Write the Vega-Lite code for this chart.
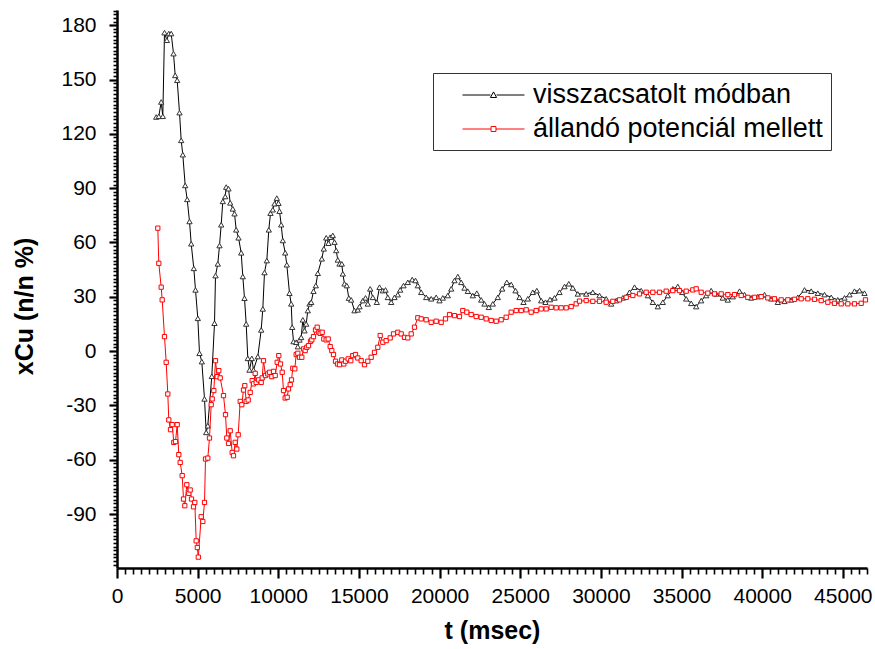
{
 "$schema": "https://vega.github.io/schema/vega-lite/v6.json",
 "width": 750,
 "height": 558,
 "autosize": {"type": "none"},
 "padding": {"left": 117, "top": 10, "right": 8, "bottom": 81},
 "config": {"view": {"stroke": null}, "font": "Liberation Sans"},
 "datasets": {
  "feedback": [{"t":2430,"x":129.3},{"t":2592,"x":129.7},{"t":2740,"x":137.6},{"t":2840,"x":129.7},{"t":2945,"x":175.9},{"t":3088,"x":171.7},{"t":3212,"x":175.4},{"t":3360,"x":175.4},{"t":3503,"x":164.3},{"t":3608,"x":152.3},{"t":3732,"x":149.6},{"t":3875,"x":131.7},{"t":3980,"x":116.4},{"t":4080,"x":108.5},{"t":4228,"x":91.5},{"t":4352,"x":83.8},{"t":4495,"x":71.6},{"t":4600,"x":59.3},{"t":4762,"x":45.7},{"t":4867,"x":33.8},{"t":5010,"x":18.1},{"t":5115,"x":-1.2},{"t":5258,"x":-5.8},{"t":5425,"x":-26.4},{"t":5530,"x":-44.9},{"t":5630,"x":-41.2},{"t":5878,"x":-13.9},{"t":6045,"x":15.4},{"t":6107,"x":41.7},{"t":6250,"x":48.2},{"t":6355,"x":58.3},{"t":6460,"x":69.8},{"t":6560,"x":82.7},{"t":6708,"x":85.4},{"t":6770,"x":90.6},{"t":6913,"x":89.7},{"t":7018,"x":81.9},{"t":7180,"x":78.6},{"t":7285,"x":75.9},{"t":7390,"x":67.0},{"t":7533,"x":62.6},{"t":7700,"x":54.3},{"t":7800,"x":41.2},{"t":7905,"x":29.2},{"t":8010,"x":15.0},{"t":8110,"x":-4.0},{"t":8215,"x":-10.4},{"t":8358,"x":-4.0},{"t":8463,"x":-10.4},{"t":8730,"x":-3.0},{"t":8940,"x":11.7},{"t":9040,"x":23.3},{"t":9145,"x":43.4},{"t":9288,"x":50.0},{"t":9412,"x":67.0},{"t":9517,"x":76.2},{"t":9660,"x":78.1},{"t":9765,"x":81.4},{"t":9908,"x":84.5},{"t":10013,"x":81.7},{"t":10075,"x":77.3},{"t":10180,"x":69.8},{"t":10280,"x":61.1},{"t":10428,"x":54.3},{"t":10528,"x":47.7},{"t":10695,"x":32.0},{"t":10800,"x":26.1},{"t":10862,"x":13.2},{"t":10943,"x":5.3},{"t":11110,"x":4.9},{"t":11210,"x":2.5},{"t":11315,"x":6.2},{"t":11420,"x":7.6},{"t":11520,"x":17.3},{"t":11625,"x":11.3},{"t":11730,"x":15.0},{"t":11830,"x":22.4},{"t":11935,"x":26.1},{"t":12040,"x":27.0},{"t":12183,"x":33.1},{"t":12326,"x":36.2},{"t":12450,"x":43.0},{"t":12698,"x":51.0},{"t":12822,"x":56.5},{"t":12970,"x":62.6},{"t":13113,"x":59.6},{"t":13218,"x":62.9},{"t":13380,"x":63.9},{"t":13485,"x":60.2},{"t":13590,"x":55.6},{"t":13690,"x":50.4},{"t":13795,"x":48.2},{"t":13938,"x":48.2},{"t":14000,"x":42.7},{"t":14105,"x":37.2},{"t":14248,"x":36.2},{"t":14372,"x":29.3},{"t":14520,"x":28.3},{"t":14725,"x":22.4},{"t":14930,"x":22.8},{"t":15035,"x":24.6},{"t":15240,"x":27.9},{"t":15407,"x":29.4},{"t":15550,"x":26.1},{"t":15698,"x":34.4},{"t":15860,"x":29.7},{"t":16108,"x":27.0},{"t":16275,"x":35.3},{"t":16480,"x":33.4},{"t":16647,"x":33.8},{"t":16790,"x":29.7},{"t":17000,"x":27.0},{"t":17205,"x":29.7},{"t":17410,"x":31.2},{"t":17558,"x":33.8},{"t":17763,"x":36.2},{"t":18030,"x":38.0},{"t":18302,"x":39.5},{"t":18507,"x":39.0},{"t":18650,"x":36.2},{"t":18860,"x":32.5},{"t":19170,"x":29.7},{"t":19480,"x":28.9},{"t":19790,"x":29.7},{"t":19995,"x":27.9},{"t":20200,"x":29.4},{"t":20510,"x":30.7},{"t":20720,"x":34.4},{"t":20925,"x":39.0},{"t":21130,"x":41.2},{"t":21340,"x":38.0},{"t":21545,"x":34.9},{"t":21750,"x":33.1},{"t":22060,"x":30.7},{"t":22308,"x":32.0},{"t":22580,"x":28.3},{"t":22785,"x":26.1},{"t":23052,"x":24.2},{"t":23300,"x":26.1},{"t":23610,"x":29.7},{"t":23882,"x":34.4},{"t":24168,"x":38.0},{"t":24440,"x":36.8},{"t":24707,"x":33.4},{"t":24955,"x":29.7},{"t":25203,"x":27.0},{"t":25470,"x":28.9},{"t":25780,"x":32.5},{"t":26028,"x":33.4},{"t":26300,"x":27.9},{"t":26567,"x":27.0},{"t":26846,"x":28.5},{"t":27125,"x":29.4},{"t":27435,"x":32.5},{"t":27745,"x":35.7},{"t":28012,"x":37.2},{"t":28260,"x":34.9},{"t":28570,"x":31.6},{"t":29090,"x":31.6},{"t":29500,"x":32.5},{"t":29915,"x":30.7},{"t":30330,"x":28.9},{"t":30640,"x":26.1},{"t":30950,"x":27.9},{"t":31360,"x":29.4},{"t":31775,"x":32.5},{"t":32085,"x":35.3},{"t":32500,"x":33.4},{"t":32910,"x":30.7},{"t":33220,"x":27.0},{"t":33530,"x":24.6},{"t":33840,"x":27.0},{"t":34150,"x":30.7},{"t":34460,"x":34.4},{"t":34770,"x":35.7},{"t":35042,"x":32.5},{"t":35290,"x":28.9},{"t":35600,"x":26.4},{"t":35910,"x":24.6},{"t":36220,"x":27.9},{"t":36530,"x":30.7},{"t":36840,"x":33.4},{"t":37150,"x":31.6},{"t":37560,"x":29.4},{"t":37870,"x":28.3},{"t":38180,"x":30.1},{"t":38595,"x":33.1},{"t":38905,"x":31.2},{"t":39320,"x":29.4},{"t":39730,"x":30.1},{"t":40145,"x":31.2},{"t":40560,"x":28.9},{"t":40970,"x":27.0},{"t":41385,"x":27.5},{"t":41800,"x":28.3},{"t":42210,"x":29.7},{"t":42625,"x":33.8},{"t":43040,"x":33.1},{"t":43450,"x":32.0},{"t":43865,"x":31.2},{"t":44280,"x":29.7},{"t":44690,"x":28.3},{"t":45105,"x":29.4},{"t":45415,"x":31.2},{"t":45725,"x":33.1},{"t":46035,"x":33.4},{"t":46345,"x":32.0}],
  "constant": [{"t":2530,"x":67.9},{"t":2592,"x":48.5},{"t":2740,"x":35.3},{"t":2802,"x":28.3},{"t":2945,"x":8.0},{"t":3050,"x":-6.2},{"t":3150,"x":-23.7},{"t":3212,"x":-38.0},{"t":3317,"x":-43.4},{"t":3422,"x":-40.6},{"t":3522,"x":-50.4},{"t":3627,"x":-50.0},{"t":3732,"x":-40.6},{"t":3832,"x":-57.2},{"t":3918,"x":-61.5},{"t":4042,"x":-68.8},{"t":4123,"x":-81.7},{"t":4204,"x":-85.4},{"t":4328,"x":-73.8},{"t":4452,"x":-78.6},{"t":4538,"x":-76.7},{"t":4619,"x":-81.7},{"t":4743,"x":-86.0},{"t":4824,"x":-83.6},{"t":4910,"x":-104.8},{"t":4980,"x":-108.5},{"t":5040,"x":-113.8},{"t":5220,"x":-91.5},{"t":5320,"x":-94.1},{"t":5425,"x":-83.6},{"t":5487,"x":-59.6},{"t":5630,"x":-59.1},{"t":5735,"x":-48.0},{"t":5840,"x":-29.6},{"t":5902,"x":-26.4},{"t":6002,"x":-21.8},{"t":6107,"x":-5.3},{"t":6212,"x":-14.1},{"t":6312,"x":-10.8},{"t":6398,"x":-14.8},{"t":6603,"x":-24.6},{"t":6727,"x":-35.1},{"t":6808,"x":-48.0},{"t":6913,"x":-51.0},{"t":7018,"x":-44.0},{"t":7142,"x":-56.0},{"t":7223,"x":-57.8},{"t":7328,"x":-50.4},{"t":7428,"x":-54.1},{"t":7514,"x":-46.2},{"t":7638,"x":-27.8},{"t":7738,"x":-29.6},{"t":7843,"x":-21.5},{"t":7924,"x":-19.1},{"t":8010,"x":-27.8},{"t":8134,"x":-27.0},{"t":8258,"x":-22.8},{"t":8382,"x":-16.3},{"t":8463,"x":-18.1},{"t":8568,"x":-12.3},{"t":8630,"x":-17.3},{"t":8773,"x":-15.9},{"t":8940,"x":-17.3},{"t":9002,"x":-14.8},{"t":9083,"x":-5.3},{"t":9207,"x":-13.5},{"t":9350,"x":-12.6},{"t":9455,"x":-11.7},{"t":9598,"x":-14.1},{"t":9703,"x":-11.2},{"t":9808,"x":-13.5},{"t":9932,"x":-6.2},{"t":10032,"x":-2.5},{"t":10137,"x":-7.1},{"t":10242,"x":-11.7},{"t":10323,"x":-21.8},{"t":10428,"x":-25.9},{"t":10552,"x":-25.5},{"t":10633,"x":-20.9},{"t":10738,"x":-18.5},{"t":10819,"x":-15.9},{"t":10900,"x":-9.5},{"t":11024,"x":-9.8},{"t":11110,"x":-1.9},{"t":11210,"x":-1.2},{"t":11315,"x":-3.4},{"t":11458,"x":-3.4},{"t":11563,"x":1.2},{"t":11668,"x":0.3},{"t":11768,"x":2.1},{"t":11873,"x":3.0},{"t":11997,"x":5.4},{"t":12078,"x":6.2},{"t":12183,"x":8.0},{"t":12307,"x":11.7},{"t":12412,"x":13.2},{"t":12512,"x":10.4},{"t":12598,"x":9.8},{"t":12722,"x":10.4},{"t":12822,"x":6.7},{"t":12970,"x":6.2},{"t":13094,"x":6.7},{"t":13218,"x":2.5},{"t":13318,"x":0.3},{"t":13423,"x":-1.9},{"t":13547,"x":-5.6},{"t":13671,"x":-7.1},{"t":13795,"x":-7.5},{"t":13938,"x":-4.9},{"t":14062,"x":-7.1},{"t":14167,"x":-5.6},{"t":14334,"x":-4.3},{"t":14496,"x":-5.3},{"t":14620,"x":-2.5},{"t":14787,"x":-1.9},{"t":14930,"x":-3.8},{"t":15140,"x":-5.3},{"t":15345,"x":-7.5},{"t":15550,"x":-5.6},{"t":15760,"x":-3.4},{"t":15965,"x":-0.7},{"t":16170,"x":2.1},{"t":16318,"x":8.6},{"t":16480,"x":4.9},{"t":16690,"x":5.8},{"t":16938,"x":7.3},{"t":17143,"x":9.5},{"t":17410,"x":10.4},{"t":17620,"x":9.5},{"t":17825,"x":7.6},{"t":18030,"x":7.3},{"t":18240,"x":9.5},{"t":18445,"x":13.2},{"t":18650,"x":18.4},{"t":18860,"x":17.8},{"t":19170,"x":17.3},{"t":19480,"x":15.9},{"t":19790,"x":16.5},{"t":20100,"x":15.9},{"t":20367,"x":17.8},{"t":20615,"x":20.2},{"t":20925,"x":19.6},{"t":21235,"x":19.1},{"t":21440,"x":22.4},{"t":21688,"x":21.5},{"t":21960,"x":20.2},{"t":22270,"x":19.1},{"t":22580,"x":18.7},{"t":22890,"x":17.8},{"t":23200,"x":16.9},{"t":23510,"x":16.5},{"t":23820,"x":17.3},{"t":24130,"x":18.7},{"t":24440,"x":21.5},{"t":24750,"x":22.4},{"t":25060,"x":22.4},{"t":25370,"x":22.8},{"t":25680,"x":21.5},{"t":25990,"x":22.4},{"t":26300,"x":23.3},{"t":26610,"x":23.3},{"t":26920,"x":24.2},{"t":27230,"x":23.9},{"t":27540,"x":23.9},{"t":27850,"x":23.9},{"t":28160,"x":24.6},{"t":28470,"x":26.1},{"t":28675,"x":27.6},{"t":29090,"x":27.9},{"t":29500,"x":27.5},{"t":29915,"x":27.5},{"t":30330,"x":27.0},{"t":30740,"x":27.5},{"t":31155,"x":28.3},{"t":31570,"x":29.7},{"t":31980,"x":30.7},{"t":32395,"x":31.6},{"t":32810,"x":32.5},{"t":33220,"x":32.5},{"t":33635,"x":32.5},{"t":34050,"x":33.1},{"t":34460,"x":33.4},{"t":34875,"x":33.4},{"t":35290,"x":33.1},{"t":35700,"x":33.8},{"t":35910,"x":34.4},{"t":36220,"x":32.5},{"t":36630,"x":32.0},{"t":37045,"x":31.6},{"t":37460,"x":31.6},{"t":37870,"x":31.2},{"t":38285,"x":31.2},{"t":38700,"x":30.7},{"t":39110,"x":29.7},{"t":39525,"x":29.7},{"t":39940,"x":30.1},{"t":40350,"x":29.4},{"t":40765,"x":28.9},{"t":41180,"x":28.3},{"t":41590,"x":28.3},{"t":42005,"x":28.6},{"t":42420,"x":28.9},{"t":42830,"x":28.9},{"t":43245,"x":28.6},{"t":43660,"x":27.9},{"t":44070,"x":27.0},{"t":44485,"x":26.4},{"t":44900,"x":26.1},{"t":45310,"x":26.1},{"t":45725,"x":26.1},{"t":46140,"x":26.4},{"t":46405,"x":28.3}]
 },
 "encoding": {
  "x": {
   "field": "t", "type": "quantitative",
   "scale": {"domain": [0, 46500], "nice": false, "zero": false},
   "axis": {
    "title": "t (msec)", "titleFontSize": 25, "titleFontWeight": "bold", "titleColor": "black", "titlePadding": 12,
    "values": [0,500,1000,1500,2000,2500,3000,3500,4000,4500,5000,5500,6000,6500,7000,7500,8000,8500,9000,9500,10000,10500,11000,11500,12000,12500,13000,13500,14000,14500,15000,15500,16000,16500,17000,17500,18000,18500,19000,19500,20000,20500,21000,21500,22000,22500,23000,23500,24000,24500,25000,25500,26000,26500,27000,27500,28000,28500,29000,29500,30000,30500,31000,31500,32000,32500,33000,33500,34000,34500,35000,35500,36000,36500,37000,37500,38000,38500,39000,39500,40000,40500,41000,41500,42000,42500,43000,43500,44000,44500,45000,45500,46000,46500],
    "labelExpr": "datum.value % 5000 === 0 ? '' + datum.value : ''",
    "labelFontSize": 21, "labelColor": "black", "labelPadding": 7, "labelOverlap": false, "labelFlush": false, "labelBound": false,
    "tickSize": {"condition": {"test": "datum.value % 5000 === 0", "value": 10}, "value": 6},
    "tickWidth": {"condition": {"test": "datum.value % 5000 === 0", "value": 2.2}, "value": 1.6},
    "tickColor": "black", "domainColor": "black", "domainWidth": 2.5, "grid": false
   }
  },
  "y": {
   "field": "x", "type": "quantitative",
   "scale": {"domain": [-119.8, 188.4], "nice": false, "zero": false},
   "axis": {
    "title": "xCu (n/n %)", "titleFontSize": 25, "titleFontWeight": "bold", "titleColor": "black", "titlePadding": 23, "titleY": 296,
    "values": [-118,-116,-114,-112,-110,-108,-106,-104,-102,-100,-98,-96,-94,-92,-90,-88,-86,-84,-82,-80,-78,-76,-74,-72,-70,-68,-66,-64,-62,-60,-58,-56,-54,-52,-50,-48,-46,-44,-42,-40,-38,-36,-34,-32,-30,-28,-26,-24,-22,-20,-18,-16,-14,-12,-10,-8,-6,-4,-2,0,2,4,6,8,10,12,14,16,18,20,22,24,26,28,30,32,34,36,38,40,42,44,46,48,50,52,54,56,58,60,62,64,66,68,70,72,74,76,78,80,82,84,86,88,90,92,94,96,98,100,102,104,106,108,110,112,114,116,118,120,122,124,126,128,130,132,134,136,138,140,142,144,146,148,150,152,154,156,158,160,162,164,166,168,170,172,174,176,178,180,182,184,186,188],
    "labelExpr": "datum.value % 30 === 0 ? '' + datum.value : ''",
    "labelFontSize": 21, "labelColor": "black", "labelPadding": 13, "labelOverlap": false, "labelBound": false, "labelFlush": false,
    "tickSize": {"condition": {"test": "datum.value % 30 === 0", "value": 8}, "value": 4},
    "tickWidth": {"condition": {"test": "datum.value % 30 === 0", "value": 2.2}, "value": 1.6},
    "tickColor": "black", "domainColor": "black", "domainWidth": 2.5, "grid": false
   }
  }
 },
 "layer": [
  {
   "data": {"name": "feedback"},
   "mark": {"type": "line", "strokeWidth": 1},
   "encoding": {
    "color": {
     "datum": "visszacsatolt módban",
     "scale": {"domain": ["visszacsatolt módban", "állandó potenciál mellett"], "range": ["black", "#ff0000"]},
     "legend": {
      "orient": "none", "legendX": 316, "legendY": 63, "title": null,
      "strokeColor": "#333333", "fillColor": "white", "padding": 8,
      "labelFontSize": 27, "labelFont": "Liberation Sans", "labelColor": "black", "labelLimit": 500,
      "symbolSize": 3844, "symbolOffset": 21, "labelOffset": 8, "rowPadding": 7, "symbolStrokeWidth": 1,
      "encode": {
       "symbols": {"update": {
        "shape": {"signal": "datum.value === 'visszacsatolt módban' ? 'M-1,0L-0.1,0M0.1,0L1,0M0,-0.1L0.1,0.08L-0.1,0.08Z' : 'M-1,0L-0.08,0M0.08,0L1,0M-0.08,-0.08L0.08,-0.08L0.08,0.08L-0.08,0.08Z'"},
        "fill": {"value": "white"},
        "strokeWidth": {"value": 1},
        "y": {"value": 14}
       }},
       "labels": {"update": {"y": {"value": 14}}}
      }
     }
    }
   }
  },
  {
   "data": {"name": "feedback"},
   "mark": {"type": "point", "shape": "triangle-up", "size": 28, "filled": true, "fill": "white", "stroke": "#333333", "strokeWidth": 1, "opacity": 1},
   "encoding": {}
  },
  {
   "data": {"name": "constant"},
   "mark": {"type": "line", "strokeWidth": 1},
   "encoding": {"color": {"datum": "állandó potenciál mellett"}}
  },
  {
   "data": {"name": "constant"},
   "mark": {"type": "point", "shape": "square", "size": 18, "filled": true, "fill": "white", "stroke": "#ff0000", "strokeWidth": 1, "opacity": 1},
   "encoding": {}
  }
 ]
}
